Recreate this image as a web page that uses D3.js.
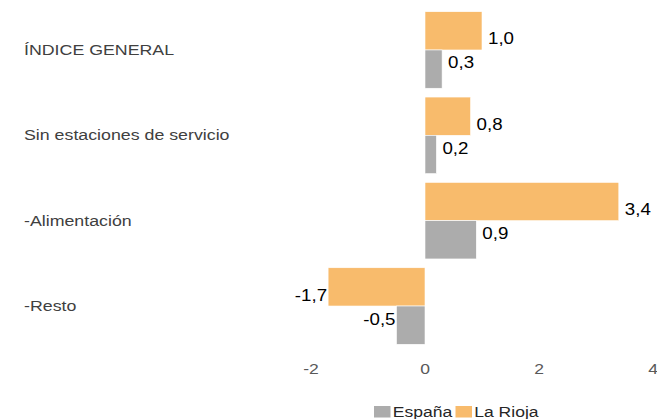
<!DOCTYPE html>
<html>
<head>
<meta charset="utf-8">
<script src="https://cdn.jsdelivr.net/npm/d3@7"></script>
<style>
  body { margin: 0; background: #fff; }
  text { font-family: "Liberation Sans", Arial, sans-serif; }
</style>
</head>
<body>
<div id="chart"></div>
<script>
// data
var categories = ["ÍNDICE GENERAL", "Sin estaciones de servicio", "-Alimentación", "-Resto"];
var series = ["La Rioja", "España"];
var rioja = [1.0, 0.8, 3.4, -1.7];
var espana = [0.3, 0.2, 0.9, -0.5];
var xTicks = [-2, 0, 2, 4];
var legendOrder = ["España", "La Rioja"];

var width = 657, height = 419;
var stretch = 1.17; // text in the reference is wider than normal

var color = d3.scaleOrdinal()
    .domain(series)
    .range(["#F8BB6C", "#ACACAC"]);

var rows = categories.map(function(c, i) {
    return { cat: c, values: [
        { key: "La Rioja", value: rioja[i] },
        { key: "España", value: espana[i] }
    ]};
});

var svg = d3.select("#chart")
    .append("svg")
    .attr("width", width)
    .attr("height", height);

var x = d3.scaleLinear().domain([-2, 4]).range([311, 653]);

var y = d3.scaleBand()
    .domain(categories)
    .range([11.7, 344.3])
    .paddingInner(0.103)
    .paddingOuter(0);

var y1 = d3.scaleBand()
    .domain(series)
    .range([0, y.bandwidth()]);

// helper for horizontally stretched text
function stretchedText(sel, fx, fy) {
    return sel.attr("transform", function(d, i) {
        return "translate(" + fx(d, i) + "," + fy(d, i) + ") scale(" + stretch + ",1)";
    });
}

// category labels
stretchedText(svg.append("g").selectAll("text")
    .data(categories)
    .enter()
    .append("text")
    .text(function(d) { return d; })
    .attr("font-size", 15.2)
    .attr("fill", "#404040")
    .attr("dominant-baseline", "central"),
    function() { return 24; },
    function(d) { return y(d) + y.bandwidth() / 2; });

// bars
var groups = svg.append("g").selectAll("g")
    .data(rows)
    .enter()
    .append("g")
    .attr("transform", function(d) { return "translate(0," + y(d.cat) + ")"; });

groups.selectAll("rect")
    .data(function(d) { return d.values; })
    .enter()
    .append("rect")
    .attr("x", function(d) { return x(Math.min(0, d.value)); })
    .attr("y", function(d) { return y1(d.key); })
    .attr("width", function(d) { return Math.abs(x(d.value) - x(0)); })
    .attr("height", y1.bandwidth())
    .attr("fill", function(d) { return color(d.key); })
    .attr("stroke", "#fff")
    .attr("stroke-width", 0.6);

// value labels (sit near the boundary between the two bars)
var fmt = function(v) { return d3.format(".1f")(v).replace(".", ",").replace("\u2212", "-"); };

stretchedText(groups.selectAll("text")
    .data(function(d) { return d.values; })
    .enter()
    .append("text")
    .text(function(d) { return fmt(d.value); })
    .attr("font-size", 16)
    .attr("fill", "#000")
    .attr("dominant-baseline", "central")
    .attr("text-anchor", function(d) { return d.value < 0 ? "end" : "start"; }),
    function(d) { return d.value < 0 ? x(d.value) - 1 : x(d.value) + 6; },
    function(d) {
        var boundary = y1("España");
        return d.key === "La Rioja" ? boundary - 11 : boundary + 13;
    });

// x axis tick labels (no line)
stretchedText(svg.append("g").selectAll("text")
    .data(xTicks)
    .enter()
    .append("text")
    .text(function(d) { return d; })
    .attr("font-size", 15)
    .attr("fill", "#595959")
    .attr("text-anchor", "middle")
    .attr("dominant-baseline", "central"),
    function(d) { return x(d); },
    function() { return 368; });

// legend
var legendX = [374, 455.5];
var legend = svg.append("g").selectAll("g")
    .data(legendOrder)
    .enter()
    .append("g")
    .attr("transform", function(d, i) { return "translate(" + legendX[i] + ",406)"; });

legend.append("rect")
    .attr("width", 16.5)
    .attr("height", 11.5)
    .attr("fill", function(d) { return color(d); });

legend.append("text")
    .text(function(d) { return d; })
    .attr("font-size", 15)
    .attr("fill", "#262626")
    .attr("transform", "translate(18.7,10.7) scale(" + stretch + ",1)");
</script>
</body>
</html>
